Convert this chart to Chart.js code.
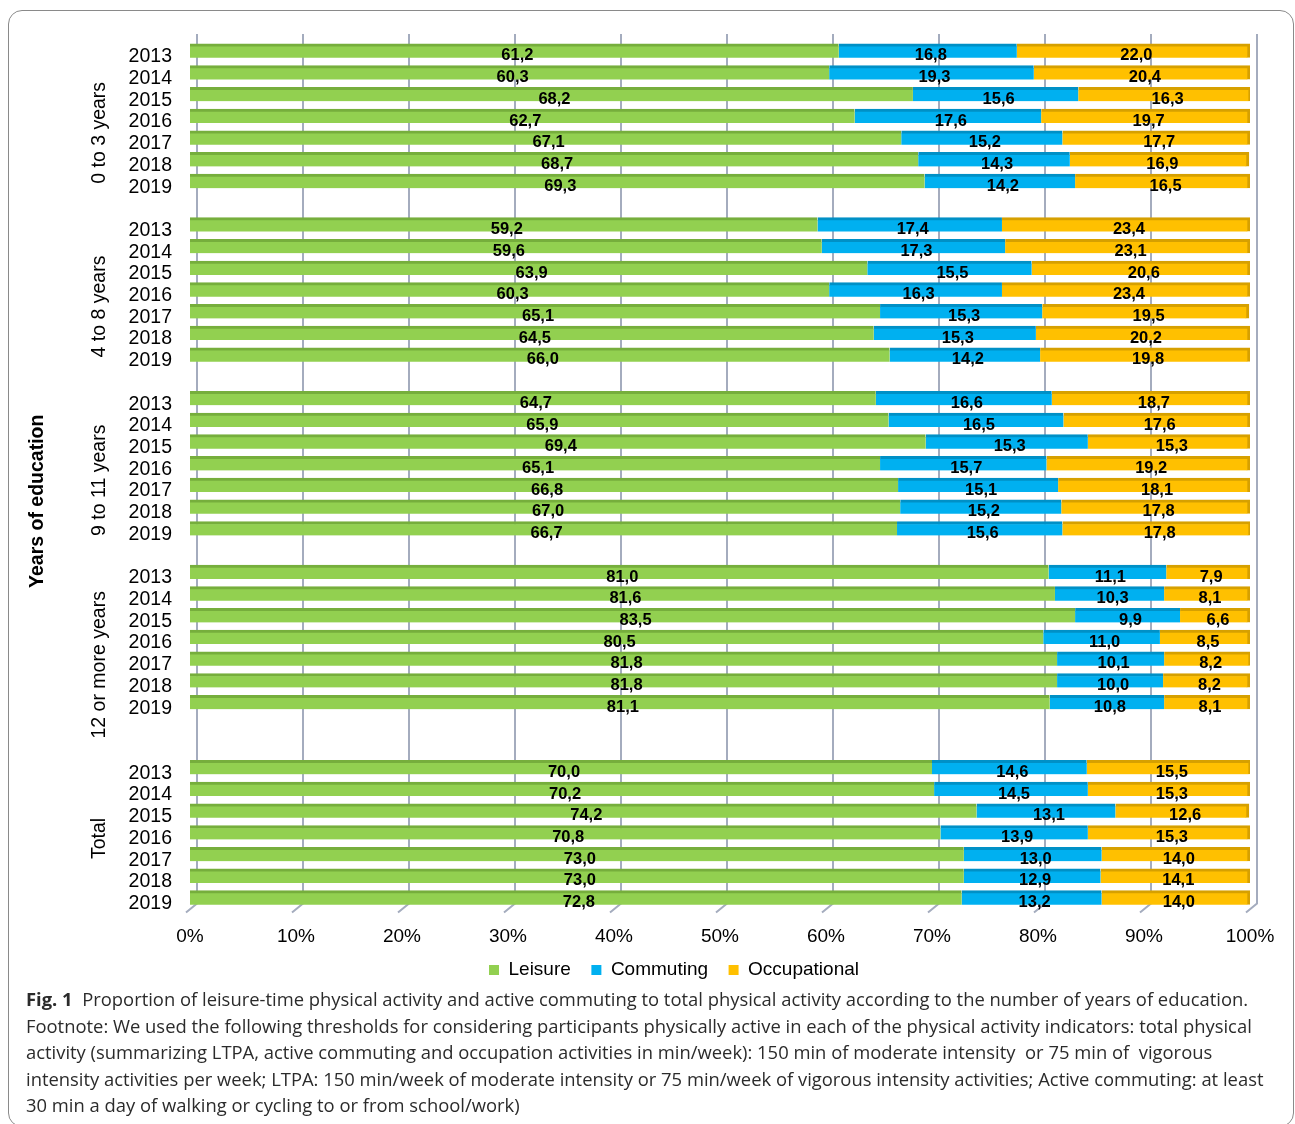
<!DOCTYPE html>
<html>
<head>
<meta charset="utf-8">
<script src="https://cdn.jsdelivr.net/npm/chart.js@4/dist/chart.umd.min.js"></script>
<style>
  html, body { margin: 0; padding: 0; background: #fff; }
  body { width: 1295px; height: 1124px; position: relative; overflow: hidden; }
  .card { position: absolute; left: 8px; top: 10px; width: 1286px; height: 1117px;
          border: 1.5px solid #8a8a8a; border-radius: 14px; box-sizing: border-box; }
  #wrap { position: absolute; left: 0; top: 0; width: 1295px; height: 992px; }
  .caption { position: absolute; left: 26px; top: 986px; font-family: "Open Sans", sans-serif;
             font-size: 18.4px; line-height: 26.5px; color: #2b2b2b; white-space: nowrap; letter-spacing: 0; }
  .caption b { font-weight: 700; }
</style>
</head>
<body>
<div class="card"></div>
<div id="wrap"><canvas id="chart" width="1295" height="992"></canvas></div>
<div class="caption">
  <div><b>Fig. 1</b>&nbsp; Proportion of leisure-time physical activity and active commuting to total physical activity according to the number of years of education.</div>
  <div>Footnote: We used the following thresholds for considering participants physically active in each of the physical activity indicators: total physical</div>
  <div>activity (summarizing LTPA, active commuting and occupation activities in min/week): 150 min of moderate intensity&nbsp; or 75 min of&nbsp; vigorous</div>
  <div>intensity activities per week; LTPA: 150 min/week of moderate intensity or 75 min/week of vigorous intensity activities; Active commuting: at least</div>
  <div>30 min a day of walking or cycling to or from school/work)</div>
</div>
<script>
// Survey years shown inside every education group
const years = ['2013', '2014', '2015', '2016', '2017', '2018', '2019'];

// Education groups, top to bottom
const groups = ['0 to 3 years', '4 to 8 years', '9 to 11 years', '12 or more years', 'Total'];

// Share (%) of total physical activity, 7 years per group in the order of `groups`
const leisure = [
  61.2, 60.3, 68.2, 62.7, 67.1, 68.7, 69.3,
  59.2, 59.6, 63.9, 60.3, 65.1, 64.5, 66.0,
  64.7, 65.9, 69.4, 65.1, 66.8, 67.0, 66.7,
  81.0, 81.6, 83.5, 80.5, 81.8, 81.8, 81.1,
  70.0, 70.2, 74.2, 70.8, 73.0, 73.0, 72.8
];
const commuting = [
  16.8, 19.3, 15.6, 17.6, 15.2, 14.3, 14.2,
  17.4, 17.3, 15.5, 16.3, 15.3, 15.3, 14.2,
  16.6, 16.5, 15.3, 15.7, 15.1, 15.2, 15.6,
  11.1, 10.3, 9.9, 11.0, 10.1, 10.0, 10.8,
  14.6, 14.5, 13.1, 13.9, 13.0, 12.9, 13.2
];
const occupational = [
  22.0, 20.4, 16.3, 19.7, 17.7, 16.9, 16.5,
  23.4, 23.1, 20.6, 23.4, 19.5, 20.2, 19.8,
  18.7, 17.6, 15.3, 19.2, 18.1, 17.8, 17.8,
  7.9, 8.1, 6.6, 8.5, 8.2, 8.2, 8.1,
  15.5, 15.3, 12.6, 15.3, 14.0, 14.1, 14.0
];

// Percent ticks along the value axis
const xTicks = [0, 10, 20, 30, 40, 50, 60, 70, 80, 90, 100];

const FONT = '"Liberation Sans", Arial, sans-serif';

// Build the category slots: each group's years, followed by empty spacer rows
const slotLabels = [], lSlots = [], cSlots = [], oSlots = [], groupSpans = [];
groups.forEach((g, gi) => {
  const start = slotLabels.length;
  years.forEach((y, yi) => {
    const k = gi * years.length + yi;
    slotLabels.push(y);
    lSlots.push(leisure[k]);
    cSlots.push(commuting[k]);
    oSlots.push(occupational[k]);
  });
  const spacers = gi === groups.length - 1 ? 0 : (gi === groups.length - 2 ? 2 : 1);
  for (let s = 0; s < spacers; s++) {
    slotLabels.push('');
    lSlots.push(null); cSlots.push(null); oSlots.push(null);
  }
  // the group caption is centred on its rows plus the spacer rows that follow
  groupSpans.push({ name: g, start, end: slotLabels.length - 1 });
});

const fmt = v => v.toFixed(1).replace('.', ',');

// Back-wall gridlines with the small slanted foot of a 3D plot
const backGrid = {
  id: 'backGrid',
  beforeDatasetsDraw(chart) {
    const { ctx, chartArea: a, scales: { x } } = chart;
    ctx.save();
    ctx.strokeStyle = '#A4ACBE';
    ctx.lineWidth = 2;
    xTicks.forEach(v => {
      const px = x.getPixelForValue(v) + 7;
      ctx.beginPath();
      ctx.moveTo(px, a.top - 6);
      ctx.lineTo(px, a.bottom - 5);
      ctx.lineTo(px - 11, a.bottom + 4);
      ctx.stroke();
    });
    ctx.restore();
  }
};

// Value printed in the middle of each segment
const valueLabels = {
  id: 'valueLabels',
  afterDatasetsDraw(chart) {
    const { ctx } = chart;
    ctx.save();
    ctx.font = 'bold 16.5px ' + FONT;
    ctx.fillStyle = '#000';
    ctx.textAlign = 'center';
    ctx.textBaseline = 'middle';
    chart.data.datasets.forEach((ds, di) => {
      chart.getDatasetMeta(di).data.forEach((el, i) => {
        const v = ds.data[i];
        if (v == null) return;
        ctx.fillText(fmt(v), (el.x + el.base) / 2 + 3, el.y + 5);
      });
    });
    ctx.restore();
  }
};

// Group captions and the overall axis title on the left
const groupLabels = {
  id: 'groupLabels',
  afterDraw(chart) {
    const { ctx, chartArea: a, scales: { y } } = chart;
    ctx.save();
    ctx.fillStyle = '#000';
    ctx.textAlign = 'center';
    ctx.textBaseline = 'middle';
    ctx.font = '19.5px ' + FONT;
    groupSpans.forEach(sp => {
      const cy = (y.getPixelForValue(sp.start) + y.getPixelForValue(sp.end)) / 2 + 6;
      ctx.save();
      ctx.translate(100, cy);
      ctx.rotate(-Math.PI / 2);
      ctx.fillText(sp.name, 0, 0);
      ctx.restore();
    });
    ctx.font = 'bold 19.5px ' + FONT;
    ctx.translate(38, (a.top + a.bottom) / 2 + 27);
    ctx.rotate(-Math.PI / 2);
    ctx.fillText('Years of education', 0, 0);
    ctx.restore();
  }
};

const edge = { top: 3, right: 0, bottom: 0, left: 0 };

new Chart(document.getElementById('chart'), {
  type: 'bar',
  data: {
    labels: slotLabels,
    datasets: [
      { label: 'Leisure', data: lSlots, backgroundColor: '#92D050', borderColor: '#76AE3C',
        borderWidth: edge, borderSkipped: false, barThickness: 14 },
      { label: 'Commuting', data: cSlots, backgroundColor: '#00B0F0', borderColor: '#0090C6',
        borderWidth: edge, borderSkipped: false, barThickness: 14 },
      { label: 'Occupational', data: oSlots, backgroundColor: '#FFC000', borderColor: '#D6A000',
        borderWidth: { top: 3, right: 3, bottom: 0, left: 0 }, borderSkipped: false, barThickness: 14 }
    ]
  },
  options: {
    indexAxis: 'y',
    responsive: false,
    animation: false,
    layout: { padding: { top: 40, left: 98, right: 45, bottom: 2.5 } },
    scales: {
      x: {
        stacked: true, min: 0, max: 100,
        grid: { display: false, drawTicks: false },
        border: { display: false },
        ticks: { stepSize: 10, callback: v => v + '%', color: '#000', padding: 17,
                 maxRotation: 0, autoSkip: false, font: { family: FONT, size: 19 } },
        afterFit(s) { s.height = 42; }
      },
      y: {
        stacked: true,
        grid: { display: false, drawTicks: false },
        border: { display: false },
        ticks: { autoSkip: false, color: '#000', padding: 18, labelOffset: 6,
                 font: { family: FONT, size: 19.5 } },
        afterFit(s) { s.width = 92; }
      }
    },
    plugins: {
      legend: {
        position: 'bottom',
        labels: {
          boxWidth: 10, boxHeight: 10, padding: 10, color: '#000',
          font: { family: FONT, size: 19 },
          generateLabels(chart) {
            const items = Chart.defaults.plugins.legend.labels.generateLabels(chart);
            items.forEach((it, i) => {
              it.lineWidth = 0;
              it.strokeStyle = it.fillStyle;
              // widen the gap before the next entry
              if (i < items.length - 1) it.text += '\u00a0\u00a0';
            });
            return items;
          }
        }
      },
      tooltip: { enabled: false }
    }
  },
  plugins: [backGrid, valueLabels, groupLabels]
});
</script>
</body>
</html>
